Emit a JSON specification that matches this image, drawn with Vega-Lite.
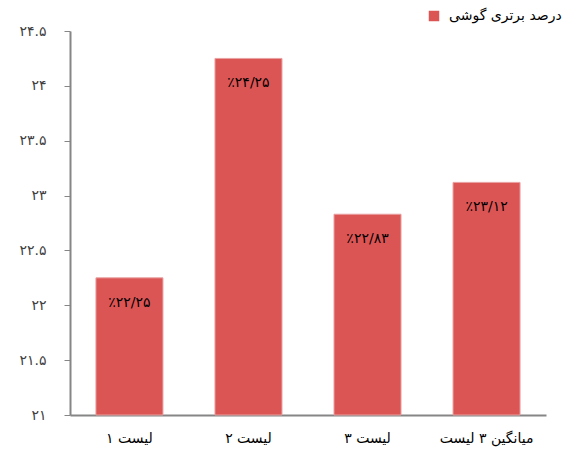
{
  "$schema": "https://vega.github.io/schema/vega-lite/v6.json",
  "width": 476,
  "height": 384,
  "autosize": "none",
  "padding": {"left": 70, "top": 31, "right": 20, "bottom": 40},
  "config": {"view": {"stroke": null}, "font": "DejaVu Sans"},
  "data": {
    "values": [
      {"cat": "لیست ۱", "value": 22.25, "txt": "٪۲۲/۲۵", "series": "درصد برتری گوشی"},
      {"cat": "لیست ۲", "value": 24.25, "txt": "٪۲۴/۲۵", "series": "درصد برتری گوشی"},
      {"cat": "لیست ۳", "value": 22.83, "txt": "٪۲۲/۸۳", "series": "درصد برتری گوشی"},
      {"cat": "میانگین ۳ لیست", "value": 23.12, "txt": "٪۲۳/۱۲", "series": "درصد برتری گوشی"}
    ]
  },
  "encoding": {
    "x": {
      "field": "cat", "type": "nominal", "sort": null,
      "scale": {"paddingInner": 0.437, "paddingOuter": 0.218},
      "axis": {"title": null, "labelAngle": 0, "ticks": false, "domainColor": "#868686", "domainWidth": 2, "labelFontSize": 14, "labelColor": "#000000", "labelPadding": 16}
    },
    "y": {
      "field": "value", "type": "quantitative",
      "scale": {"domain": [21, 24.5], "zero": false, "nice": false},
      "axis": {
        "title": null, "grid": false, "values": [21, 21.5, 22, 22.5, 23, 23.5, 24, 24.5],
        "labelExpr": "replace(replace(replace(replace(replace(replace(replace(replace(replace(replace(''+datum.value, regexp('0','g'), '۰'), regexp('1','g'), '۱'), regexp('2','g'), '۲'), regexp('3','g'), '۳'), regexp('4','g'), '۴'), regexp('5','g'), '۵'), regexp('6','g'), '۶'), regexp('7','g'), '۷'), regexp('8','g'), '۸'), regexp('9','g'), '۹')",
        "domainColor": "#868686", "domainWidth": 2, "tickColor": "#868686", "tickSize": 6, "labelPadding": 18,
        "labelFontSize": 14, "labelColor": "#404040"
      }
    }
  },
  "layer": [
    {
      "mark": {"type": "bar", "stroke": "#E9A0A0", "strokeWidth": 1},
      "encoding": {
        "y2": {"datum": 21},
        "color": {
          "field": "series", "type": "nominal",
          "scale": {"range": ["#DC5555"]},
          "legend": {"title": null, "orient": "none", "legendX": 357, "legendY": -22, "symbolType": "square", "symbolSize": 110, "symbolStrokeWidth": 0, "labelFontSize": 14, "labelColor": "#000000", "labelOffset": 8, "padding": 0, "labelLimit": 300}
        }
      }
    },
    {
      "mark": {"type": "text", "baseline": "top", "dy": 18, "fontSize": 14, "color": "#000000"},
      "encoding": {"text": {"field": "txt"}}
    }
  ]
}
